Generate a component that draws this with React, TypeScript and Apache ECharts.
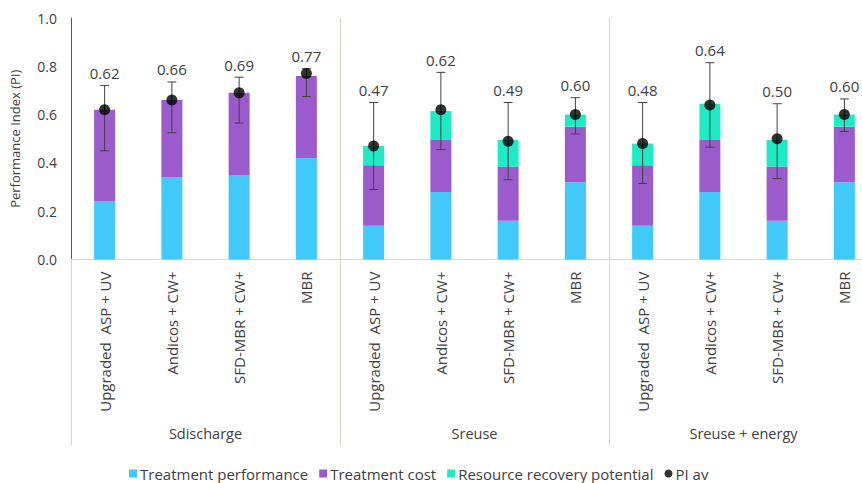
import React, { useEffect, useRef } from "react";
import * as echarts from "echarts";

const categories = [
  "Upgraded  ASP + UV", "Andicos + CW+", "SFD-MBR + CW+", "MBR",
  "Upgraded  ASP + UV", "Andicos + CW+", "SFD-MBR + CW+", "MBR",
  "Upgraded  ASP + UV", "Andicos + CW+", "SFD-MBR + CW+", "MBR",
];
const groups = ["Sdischarge", "Sreuse", "Sreuse + energy"];
const treatmentPerformance = [0.24, 0.34, 0.35, 0.42, 0.14, 0.28, 0.16, 0.32, 0.14, 0.28, 0.16, 0.32];
const treatmentCost = [0.38, 0.32, 0.34, 0.34, 0.25, 0.215, 0.225, 0.23, 0.25, 0.215, 0.225, 0.23];
const resourceRecovery = [0, 0, 0, 0, 0.08, 0.12, 0.11, 0.05, 0.09, 0.15, 0.11, 0.05];
const piAv = [0.62, 0.66, 0.69, 0.77, 0.47, 0.62, 0.49, 0.6, 0.48, 0.64, 0.5, 0.6];
const errLow = [0.45, 0.525, 0.565, 0.675, 0.29, 0.455, 0.33, 0.52, 0.315, 0.465, 0.335, 0.53];
const errHigh = [0.72, 0.735, 0.755, 0.79, 0.65, 0.775, 0.65, 0.67, 0.65, 0.815, 0.645, 0.665];
const yTicks = [0, 0.2, 0.4, 0.6, 0.8, 1.0];

const FONT = "'Open Sans', 'Noto Sans', sans-serif";
const TEXT = "#404040";
const SEP = "#D8D6C2";

export default function App() {
  const ref = useRef<HTMLDivElement>(null);
  useEffect(() => {
    if (!ref.current) return;
    const chart = echarts.init(ref.current, undefined, { renderer: "svg" });
    const errData = categories.map((_, i) => [i, errLow[i], errHigh[i], piAv[i]]);
    chart.setOption({
      animation: false,
      textStyle: { fontFamily: FONT },
      grid: { left: 70, top: 18, width: 808, height: 241.5 },
      legend: {
        left: 124,
        top: 461,
        itemWidth: 8,
        itemHeight: 8,
        itemGap: 11,
        textStyle: { fontSize: 15, color: TEXT, fontFamily: FONT, padding: [0, 0, 0, -2] },
        data: [
          { name: "Treatment performance", icon: "rect" },
          { name: "Treatment cost", icon: "rect" },
          { name: "Resource recovery potential", icon: "rect" },
          { name: "PI av", icon: "circle", itemStyle: { color: "#000" } },
        ],
      },
      xAxis: [
        {
          type: "category",
          data: categories,
          axisLine: { show: true, lineStyle: { color: "#D9D9D9", width: 1 } },
          axisTick: { show: false },
          splitLine: {
            show: true,
            interval: (i: number) => i % 4 === 0 && i > 0,
            lineStyle: { color: SEP, width: 1 },
          },
          axisLabel: {
            rotate: 90,
            interval: 0,
            margin: 12,
            fontSize: 15,
            color: TEXT,
            fontFamily: FONT,
          },
        },
        {
          type: "category",
          data: groups,
          position: "bottom",
          offset: 186,
          axisLine: { show: false },
          axisTick: { show: true, inside: true, length: 186, interval: 0, lineStyle: { color: SEP, width: 1 } },
          axisLabel: { inside: true, margin: 5, fontSize: 14.5, color: TEXT, fontFamily: FONT, verticalAlign: "bottom" },
        },
      ],
      yAxis: {
        type: "value",
        min: 0,
        max: 1,
        interval: 0.2,
        name: "Performance Index (PI)",
        nameLocation: "middle",
        nameGap: 50,
        nameTextStyle: { fontSize: 13, color: TEXT, fontFamily: FONT },
        axisLine: { show: true, lineStyle: { color: "#595959", width: 1 } },
        axisTick: { show: false },
        splitLine: { show: false },
        axisLabel: {
          fontSize: 14,
          color: TEXT,
          margin: 14,
          fontFamily: FONT,
          formatter: (v: number) => (yTicks.some((t) => Math.abs(t - v) < 1e-9) ? v.toFixed(1) : ""),
        },
      },
      series: [
        {
          name: "Treatment performance",
          type: "bar",
          stack: "pi",
          barWidth: 21,
          itemStyle: { color: "#41C9F9" },
          data: treatmentPerformance,
        },
        {
          name: "Treatment cost",
          type: "bar",
          stack: "pi",
          barWidth: 21,
          itemStyle: { color: "#9B5BCC" },
          data: treatmentCost,
        },
        {
          name: "Resource recovery potential",
          type: "bar",
          stack: "pi",
          barWidth: 21,
          itemStyle: { color: "#1EEBC6" },
          data: resourceRecovery,
        },
        {
          name: "errors",
          type: "custom",
          z: 5,
          data: errData,
          renderItem: (params: any, api: any) => {
            const i = api.value(0);
            const lo = api.coord([i, api.value(1)]);
            const hi = api.coord([i, api.value(2)]);
            const pi = api.value(3) as number;
            const x = lo[0];
            const cap = 4.5;
            const ls = { stroke: "#404040", lineWidth: 1 };
            return {
              type: "group",
              children: [
                { type: "line", shape: { x1: x, y1: lo[1], x2: x, y2: hi[1] }, style: ls },
                { type: "line", shape: { x1: x - cap, y1: lo[1], x2: x + cap, y2: lo[1] }, style: ls },
                { type: "line", shape: { x1: x - cap, y1: hi[1], x2: x + cap, y2: hi[1] }, style: ls },
                {
                  type: "text",
                  style: {
                    text: pi.toFixed(2),
                    x: x,
                    y: hi[1] - 5,
                    align: "center",
                    verticalAlign: "bottom",
                    fontSize: 15,
                    fontFamily: FONT,
                    fill: TEXT,
                  },
                },
              ],
            };
          },
        },
        {
          name: "PI av",
          type: "scatter",
          z: 6,
          symbol: "circle",
          symbolSize: 11,
          itemStyle: { color: "#000" },
          data: piAv,
        },
      ],
    });
    return () => chart.dispose();
  }, []);
  return (
    <div
      ref={ref}
      style={{ position: "fixed", left: 0, top: 0, width: 900, height: 483, background: "#fff" }}
    />
  );
}
